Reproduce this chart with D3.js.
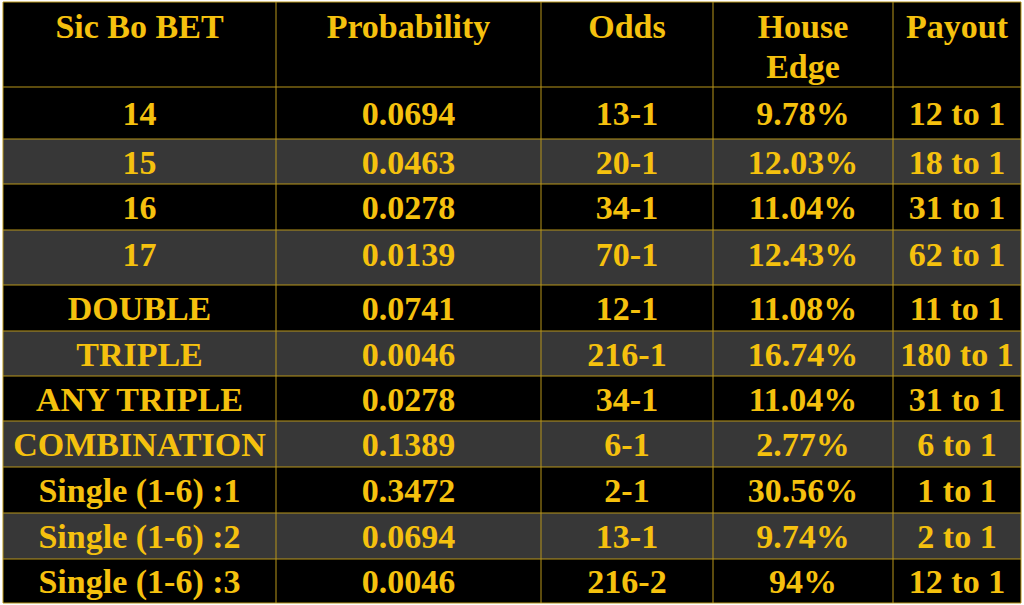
<!DOCTYPE html>
<html>
<head>
<meta charset="utf-8">
<script src="https://cdn.jsdelivr.net/npm/d3@7"></script>
<style>
  body { margin: 0; background: #fff; }
  text { font-family: "Liberation Serif", "DejaVu Serif", serif; font-weight: bold; fill: #f5c10e; }
</style>
</head>
<body>
<svg id="chart" width="1024" height="605"></svg>
<script>
// table data
var headers = [["Sic Bo BET"], ["Probability"], ["Odds"], ["House", "Edge"], ["Payout"]];
var bets = ["14", "15", "16", "17", "DOUBLE", "TRIPLE", "ANY TRIPLE", "COMBINATION",
  "Single (1-6) :1", "Single (1-6) :2", "Single (1-6) :3"];
var probability = ["0.0694", "0.0463", "0.0278", "0.0139", "0.0741", "0.0046", "0.0278", "0.1389",
  "0.3472", "0.0694", "0.0046"];
var odds = ["13-1", "20-1", "34-1", "70-1", "12-1", "216-1", "34-1", "6-1", "2-1", "13-1", "216-2"];
var houseEdge = ["9.78%", "12.03%", "11.04%", "12.43%", "11.08%", "16.74%", "11.04%", "2.77%",
  "30.56%", "9.74%", "94%"];
var payout = ["12 to 1", "18 to 1", "31 to 1", "62 to 1", "11 to 1", "180 to 1", "31 to 1", "6 to 1",
  "1 to 1", "2 to 1", "12 to 1"];

// layout
var colEdges = [3, 276, 541, 713, 893, 1021];
var rowEdges = [2, 87, 139, 184, 230, 285, 331, 376, 421, 467, 513, 559, 603];
var fs = 34;

var svg = d3.select("#chart");
var columns = [bets, probability, odds, houseEdge, payout];
var rows = bets.map(function(d, i) { return columns.map(function(c) { return c[i]; }); });

// header
svg.append("rect").attr("x", colEdges[0]).attr("y", rowEdges[0])
  .attr("width", colEdges[5] - colEdges[0]).attr("height", rowEdges[1] - rowEdges[0])
  .attr("fill", "#000");
headers.forEach(function(h, c) {
  var cx = (colEdges[c] + colEdges[c + 1]) / 2;
  h.forEach(function(line, k) {
    svg.append("text").attr("x", cx).attr("y", 38 + k * 40)
      .attr("text-anchor", "middle").attr("font-size", fs).text(line);
  });
});

// body rows
var g = svg.selectAll("g.row").data(rows).enter().append("g").attr("class", "row");
g.append("rect")
  .attr("x", colEdges[0])
  .attr("y", function(d, i) { return rowEdges[i + 1]; })
  .attr("width", colEdges[5] - colEdges[0])
  .attr("height", function(d, i) { return rowEdges[i + 2] - rowEdges[i + 1]; })
  .attr("fill", function(d, i) { return i % 2 ? "#373737" : "#000"; });
g.each(function(d, i) {
  var y0 = rowEdges[i + 1], y1 = rowEdges[i + 2];
  var cy = i == 3 ? y0 + 24 : (y0 + y1) / 2;
  d3.select(this).selectAll("text").data(d).enter().append("text")
    .attr("x", function(v, c) { return (colEdges[c] + colEdges[c + 1]) / 2; })
    .attr("y", cy + 12)
    .attr("text-anchor", "middle")
    .attr("font-size", fs)
    .text(function(v) { return v; });
});

// grid lines
var grid = svg.append("g").attr("stroke", "#b8961a").attr("stroke-width", 1);
colEdges.forEach(function(x) {
  grid.append("line").attr("x1", x).attr("x2", x).attr("y1", rowEdges[0]).attr("y2", rowEdges[rowEdges.length - 1]);
});
rowEdges.forEach(function(y) {
  grid.append("line").attr("x1", colEdges[0]).attr("x2", colEdges[5]).attr("y1", y).attr("y2", y);
});
</script>
</body>
</html>
